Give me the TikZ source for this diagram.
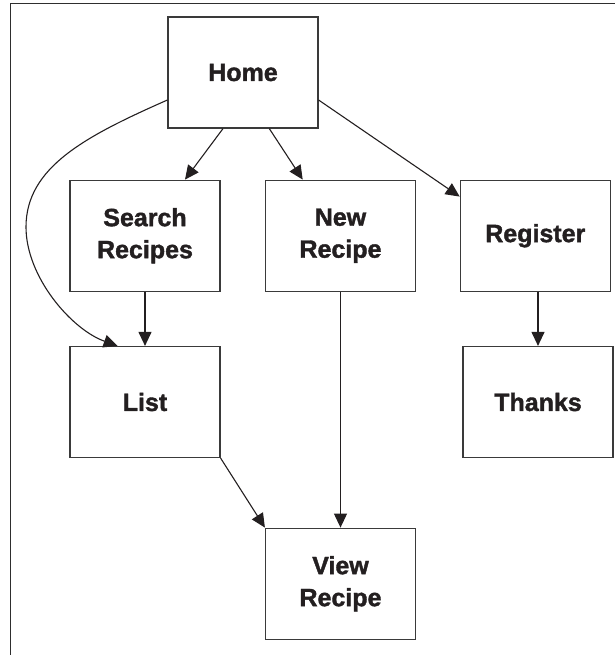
\documentclass[tikz,border=0pt]{standalone}
\usepackage{fontspec}
\setmainfont{Liberation Sans}
\newfontfamily\heavyfont[BoldFont={Liberation Sans Bold}, BoldFeatures={FakeBold=1.5}]{Liberation Sans}
\usetikzlibrary{arrows.meta,calc}
\definecolor{txt}{HTML}{231F20}
\definecolor{boxgray}{HTML}{3A3A3A}
\definecolor{framegray}{HTML}{2E2E2E}
\begin{document}
\begin{tikzpicture}[x=1pt,y=-1pt,
  box/.style={draw=boxgray, line width=1.2pt, minimum width=150pt, minimum height=111pt,
    inner sep=0pt, align=center, font=\heavyfont\fontsize{25}{32}\selectfont\bfseries, text=txt},
  conn/.style={line width=1.1pt, draw=txt, -{Triangle[length=14pt,width=13pt]}}
]
\useasboundingbox (0,0) rectangle (614,655);
\draw[framegray, line width=1.5pt] (10.7,656) -- (10.7,3.7) -- (615,3.7);

\node[box] (home) at (243,72.5) {Home};
\node[box] (search) at (145,235.7) {Search\\Recipes};
\node[box] (new) at (340.5,235.7) {New\\Recipe};
\node[box] (register) at (535.3,235.7) {Register};
\node[box] (list) at (145,402) {List};
\node[box] (thanks) at (538,402) {Thanks};
\node[box] (view) at (340.5,583.7) {View\\Recipe};

\draw[conn] ([xshift=-20pt]home.south) -- ([xshift=40pt]search.north);
\draw[conn] ([xshift=26.3pt]home.south) -- ([xshift=-37.8pt]new.north);
\draw[conn] (home.-20) -- ([yshift=-17pt]register.north west);
\draw[conn] (search) -- (list);
\draw[conn] (new) -- (view);
\draw[conn] (register.south -| thanks.north) -- (thanks.north);
\draw[conn] (list.south east) -- (view.north west);
\coordinate (bend) at (26,227);
\draw[conn] (home.200) .. controls (86,136) and (26,167) .. (bend)
  .. controls (26,277) and (71.5,329.5) .. (list.116);
\end{tikzpicture}
\end{document}
